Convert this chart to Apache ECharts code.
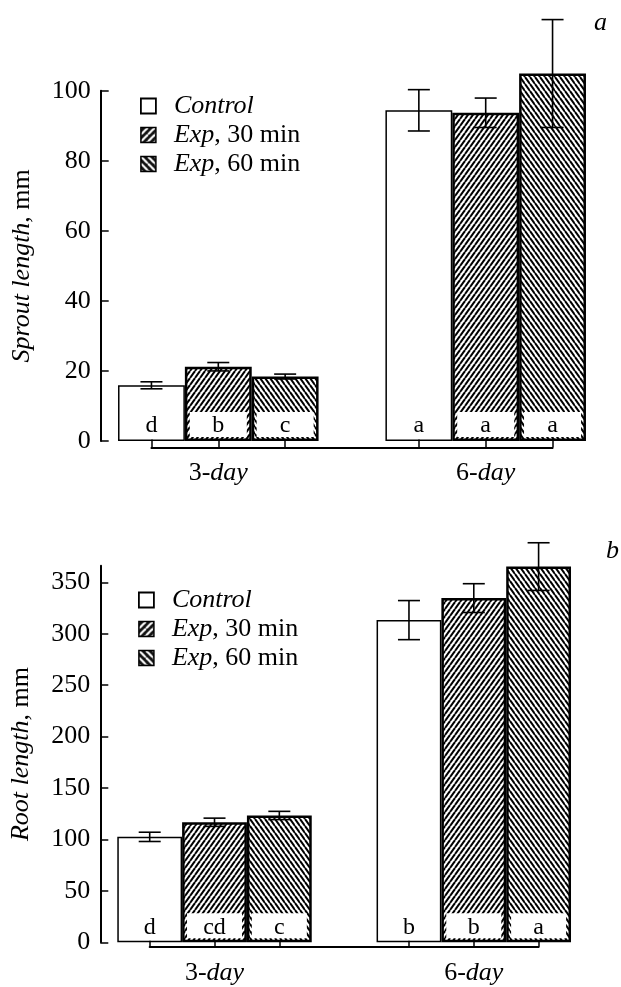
<!DOCTYPE html>
<html><head><meta charset="utf-8">
<script src="https://cdn.jsdelivr.net/npm/echarts@6/dist/echarts.min.js"></script>
<style>html,body{margin:0;padding:0;background:#fff}#c{width:621px;height:987px}</style>
</head><body><div id="c"></div>
<script>
// ---------- data ----------
const days = ['3-day', '6-day'];
const seriesNames = ['Control', 'Exp, 30 min', 'Exp, 60 min'];

// (a) Sprout length, mm
const sproutControl = [15.9, 94.4];
const sproutExp30 = [21.2, 93.7];
const sproutExp60 = [18.4, 104.9];
const sproutErrControl = [1.0, 5.9];
const sproutErrExp30 = [1.2, 4.2];
const sproutErrExp60 = [0.7, 15.4];
const sproutLettersControl = ['d', 'a'];
const sproutLettersExp30 = ['b', 'a'];
const sproutLettersExp60 = ['c', 'a'];
const sproutTicks = [0, 20, 40, 60, 80, 100];

// (b) Root length, mm
const rootControl = [102.5, 313.2];
const rootExp30 = [116.7, 334.6];
const rootExp60 = [123.3, 365.2];
const rootErrControl = [4.5, 19.0];
const rootErrExp30 = [4.0, 14.0];
const rootErrExp60 = [4.0, 23.2];
const rootLettersControl = ['d', 'b'];
const rootLettersExp30 = ['cd', 'b'];
const rootLettersExp60 = ['c', 'a'];
const rootTicks = [0, 50, 100, 150, 200, 250, 300, 350];

// ---------- helpers ----------
const FF = "'Liberation Serif','DejaVu Serif',serif";
const PER = seriesNames.length + 1; // bars + gap slot per day
const slotCats = [];
const slotLabels = [];
days.forEach((d, di) => {
  for (let s = 0; s < PER; s++) {
    if (di === days.length - 1 && s === PER - 1) break;
    slotCats.push(d + '|' + s);
    slotLabels.push(s === 1 ? d : '');
  }
});

function hatch(dir, w, h, lw, fg, bg) {
  const c = document.createElement('canvas');
  c.width = w; c.height = h;
  const g = c.getContext('2d');
  g.fillStyle = bg; g.fillRect(0, 0, w, h);
  g.strokeStyle = fg; g.lineWidth = lw;
  for (let k = -1; k <= 1; k++) {
    g.beginPath();
    if (dir > 0) { g.moveTo(k * w, h); g.lineTo(k * w + w, 0); }
    else { g.moveTo(k * w, 0); g.lineTo(k * w + w, h); }
    g.stroke();
  }
  return c;
}
const patFwd = { image: hatch(1, 5, 7, 2, '#000', '#fff'), repeat: 'repeat' };
const patBack = { image: hatch(-1, 5, 7, 2, '#000', '#fff'), repeat: 'repeat' };
const legFwd = { image: hatch(1, 7, 7, 2.2, '#fff', '#111'), repeat: 'repeat' };
const legBack = { image: hatch(-1, 7, 7, 2.2, '#fff', '#111'), repeat: 'repeat' };

const barStyles = [
  { color: '#fff', borderColor: '#000', borderWidth: 1.5 },
  { color: patFwd, borderColor: '#000', borderWidth: 2.5 },
  { color: patBack, borderColor: '#000', borderWidth: 2.5 }
];
const legendStyles = [
  { color: '#fff', borderColor: '#000', borderWidth: 1.8 },
  { color: legFwd, borderColor: '#000', borderWidth: 1.5 },
  { color: legBack, borderColor: '#000', borderWidth: 1.5 }
];

function makeBars(g, valuesList, lettersList, boxW) {
  return seriesNames.map((name, s) => ({
    type: 'bar', name, xAxisIndex: g, yAxisIndex: g,
    barWidth: '100%', barGap: '-100%', clip: false, silent: true,
    data: slotCats.map((_, i) => (i % PER === s ? valuesList[s][Math.floor(i / PER)] : '-')),
    itemStyle: barStyles[s],
    label: {
      show: true, position: 'insideBottom', distance: 4,
      formatter: p => lettersList[s][Math.floor(p.dataIndex / PER)],
      backgroundColor: '#fff', width: boxW, height: 22, lineHeight: 22, padding: [3, 0, 0, 0],
      align: 'center', color: '#000', fontSize: 24, fontFamily: FF
    },
    z: 2
  }));
}

function renderErr(params, api) {
  const x = api.value(0), m = api.value(1), e = api.value(2);
  const t = api.coord([x, m + e]), b = api.coord([x, m - e]);
  const hw = 11;
  const st = { stroke: '#000', lineWidth: 1.6 };
  return {
    type: 'group', children: [
      { type: 'line', shape: { x1: t[0], y1: t[1], x2: b[0], y2: b[1] }, style: st },
      { type: 'line', shape: { x1: t[0] - hw, y1: t[1], x2: t[0] + hw, y2: t[1] }, style: st },
      { type: 'line', shape: { x1: b[0] - hw, y1: b[1], x2: b[0] + hw, y2: b[1] }, style: st }
    ]
  };
}
function makeErr(g, meansList, errsList) {
  const data = [];
  seriesNames.forEach((_, s) => days.forEach((_, d) => data.push([d * PER + s, meansList[s][d], errsList[s][d]])));
  return { type: 'custom', name: 'err' + g, xAxisIndex: g, yAxisIndex: g, data, z: 5, silent: true,
    renderItem: renderErr, encode: { x: 0, y: 1 } };
}

const italicRich = { i: { fontStyle: 'italic', fontSize: 26, fontFamily: FF, color: '#000' } };

function xAxis(g, off, tickLen) {
  return {
    type: 'category', gridIndex: g, data: slotCats, boundaryGap: false, offset: off, z: 4,
    axisLine: { onZero: false, lineStyle: { color: '#000', width: 2 } },
    axisTick: { inside: true, length: tickLen, lineStyle: { color: '#000', width: 1.5 },
      interval: (i) => (i % PER) !== PER - 1 },
    axisLabel: { interval: 0, margin: 13, color: '#000', fontSize: 26, fontFamily: FF,
      formatter: (v, i) => slotLabels[i] ? slotLabels[i].replace('day', '{i|day}') : '',
      rich: italicRich },
    splitLine: { show: false }
  };
}
function yAxis(g, max, ticks, off, nameRich) {
  return {
    type: 'value', gridIndex: g, min: 0, max: max, offset: off,
    name: nameRich, nameLocation: 'middle', nameGap: 66, nameRotate: 90,
    nameTextStyle: { color: '#000', fontSize: 26, fontFamily: FF, rich: italicRich },
    axisLine: { show: true, onZero: false, lineStyle: { color: '#000', width: 2 } },
    axisTick: { show: true, inside: true, length: 8, customValues: ticks, lineStyle: { color: '#000', width: 1.5 } },
    axisLabel: { customValues: ticks, margin: 10, color: '#000', fontSize: 26, fontFamily: FF },
    splitLine: { show: false }
  };
}
function legend(left, top) {
  return {
    orient: 'vertical', left, top, padding: 0, itemWidth: 15, itemHeight: 15, itemGap: 3, icon: 'rect',
    selectedMode: false,
    textStyle: { color: '#000', fontSize: 26, fontFamily: FF, lineHeight: 26, padding: [0, 0, 0, 13], rich: italicRich },
    formatter: n => n.replace(/^(Control|Exp)/, '{i|$1}'),
    data: seriesNames.map((n, s) => ({ name: n, itemStyle: legendStyles[s] }))
  };
}

const titleStyle = { fontStyle: 'italic', fontWeight: 'normal', fontSize: 26, fontFamily: FF, color: '#000' };
const chart = echarts.init(document.getElementById('c'), null, { renderer: 'canvas' });
chart.setOption({
  animation: false,
  backgroundColor: '#fff',
  title: [
    { text: 'a', left: 594, top: 10, padding: 0, textStyle: titleStyle },
    { text: 'b', left: 606, top: 538, padding: 0, textStyle: titleStyle }
  ],
  legend: [legend(140, 93), legend(138, 587)],
  grid: [
    { left: 151.45, right: 68.45, top: 90.7, height: 350.3 },
    { left: 149.7, right: 82.4, top: 565.8, height: 376.5 }
  ],
  xAxis: [xAxis(0, 6.5, 8), xAxis(1, 4.5, 6)],
  yAxis: [
    yAxis(0, 100, sproutTicks, 50.75, '{i|Sprout length}, mm'),
    yAxis(1, 366, rootTicks, 49.4, '{i|Root length}, mm')
  ],
  series: [
    ...makeBars(0, [sproutControl, sproutExp30, sproutExp60], [sproutLettersControl, sproutLettersExp30, sproutLettersExp60], 57),
    makeErr(0, [sproutControl, sproutExp30, sproutExp60], [sproutErrControl, sproutErrExp30, sproutErrExp60]),
    ...makeBars(1, [rootControl, rootExp30, rootExp60], [rootLettersControl, rootLettersExp30, rootLettersExp60], 55),
    makeErr(1, [rootControl, rootExp30, rootExp60], [rootErrControl, rootErrExp30, rootErrExp60])
  ]
});
</script></body></html>
